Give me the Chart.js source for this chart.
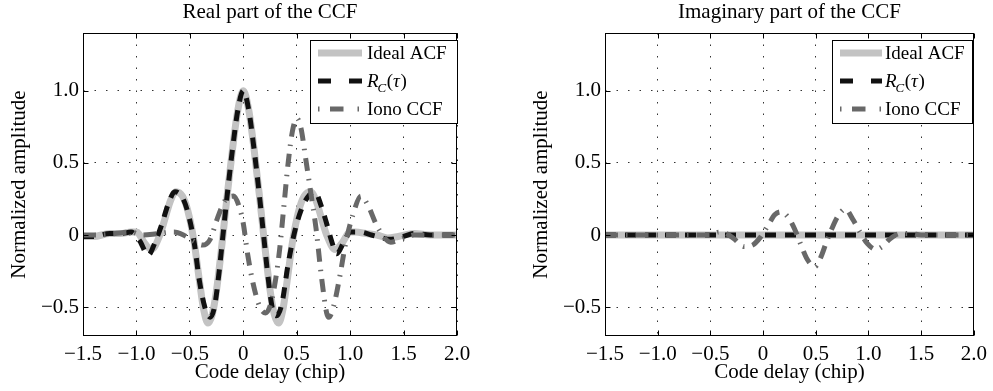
<!DOCTYPE html>
<html>
<head>
<meta charset="utf-8">
<script src="https://cdn.jsdelivr.net/npm/chart.js@4.4.1/dist/chart.umd.min.js"></script>
<style>
  html, body { margin: 0; padding: 0; background: #fff; }
  #wrap { position: relative; width: 993px; height: 391px; overflow: hidden; }
  canvas { position: absolute; top: 0; }
</style>
</head>
<body>
<div id="wrap">
  <canvas id="c1" width="522" height="391" style="left:0px"></canvas>
  <canvas id="c2" width="471" height="391" style="left:522px"></canvas>
</div>
<script>
// ---------- data ----------
const xTicks = [-1.5, -1.0, -0.5, 0, 0.5, 1.0, 1.5, 2.0];
const yTicks = [-0.5, 0, 0.5, 1.0];

// Real part: ideal ACF
const tauIdeal = [-1.5,-1.4,-1.25,-1.15,-1.05,-1.0,-0.92,-0.86,-0.78,-0.73,-0.68,-0.63,-0.57,-0.52,-0.46,-0.41,-0.37,-0.33,-0.29,-0.25,-0.19,-0.15,-0.1,-0.05,0,0.05,0.1,0.15,0.19,0.25,0.29,0.33,0.37,0.41,0.46,0.52,0.57,0.63,0.68,0.73,0.78,0.86,0.92,1.0,1.05,1.15,1.25,1.35,1.45,1.6,1.75,2.0];
const idealReal = [-0.01,-0.01,0.01,0.01,0.02,0.02,-0.06,-0.10,0.0,0.12,0.24,0.30,0.27,0.17,-0.05,-0.32,-0.52,-0.61,-0.55,-0.38,0.0,0.28,0.6,0.87,1.0,0.87,0.6,0.28,0.0,-0.38,-0.55,-0.61,-0.52,-0.32,-0.05,0.17,0.27,0.30,0.24,0.12,0.0,-0.10,-0.06,0.02,0.02,0.01,0.0,-0.02,-0.01,0.01,0.0,0.0];

// Real part: R_C(tau)
const tauRc = [-1.5,-1.4,-1.25,-1.15,-1.05,-0.97,-0.89,-0.82,-0.76,-0.7,-0.64,-0.57,-0.52,-0.46,-0.41,-0.36,-0.31,-0.27,-0.23,-0.19,-0.15,-0.1,-0.05,0,0.05,0.1,0.15,0.19,0.23,0.27,0.31,0.36,0.42,0.48,0.54,0.6,0.67,0.73,0.78,0.83,0.875,0.94,1.0,1.1,1.2,1.3,1.37,1.5,1.6,1.75,2.0];
const rcReal = [-0.01,-0.01,0.01,0.01,0.02,-0.04,-0.14,-0.04,0.08,0.22,0.30,0.26,0.16,-0.05,-0.32,-0.50,-0.57,-0.50,-0.28,0.0,0.28,0.6,0.87,1.0,0.87,0.6,0.28,0.0,-0.28,-0.50,-0.56,-0.48,-0.20,0.02,0.17,0.26,0.30,0.20,0.08,-0.05,-0.13,-0.05,0.02,0.02,0.0,-0.02,-0.03,-0.01,0.01,0.0,0.0];

// Real part: ionospheric CCF
const tauIono = [-1.5,-1.35,-1.2,-1.05,-0.95,-0.8,-0.65,-0.56,-0.47,-0.38,-0.31,-0.24,-0.17,-0.09,-0.04,0.0,0.04,0.09,0.15,0.21,0.26,0.3,0.34,0.38,0.42,0.46,0.5,0.54,0.58,0.63,0.68,0.73,0.78,0.8,0.85,0.9,0.96,1.03,1.1,1.17,1.24,1.31,1.38,1.47,1.6,1.8,2.0];
const ionoReal = [0.0,0.0,0.01,0.02,0.0,0.01,0.02,0.0,-0.04,-0.07,-0.03,0.12,0.24,0.27,0.2,0.08,-0.13,-0.33,-0.49,-0.54,-0.47,-0.32,-0.1,0.2,0.5,0.72,0.81,0.74,0.55,0.3,0.05,-0.28,-0.54,-0.57,-0.48,-0.3,-0.05,0.15,0.27,0.2,0.08,-0.01,-0.05,-0.03,0.0,0.0,0.0];

// Imaginary part: ideal ACF and R_C are zero
const tauFlat = [-1.5, -1.0, -0.5, 0, 0.5, 1.0, 1.5, 2.0];
const idealImag = [0, 0, 0, 0, 0, 0, 0, 0];
const rcImag = [0, 0, 0, 0, 0, 0, 0, 0];

// Imaginary part: ionospheric CCF
const tauIonoImag = [-1.5,-1.0,-0.5,-0.42,-0.35,-0.27,-0.18,-0.1,-0.03,0.05,0.11,0.17,0.24,0.3,0.36,0.42,0.49,0.55,0.6,0.65,0.71,0.78,0.85,0.92,0.99,1.07,1.13,1.2,1.3,1.4,1.5,2.0];
const ionoImag = [0,0,0,0.02,0.01,-0.03,-0.08,-0.07,-0.02,0.07,0.14,0.16,0.12,0.04,-0.07,-0.17,-0.22,-0.15,-0.05,0.04,0.13,0.18,0.11,0.02,-0.06,-0.1,-0.08,-0.03,0.01,0.01,0.0,0.0];

const seriesNames = ['Ideal ACF', 'R_C(\u03c4)', 'Iono CCF'];
const titles = ['Real part of the CCF', 'Imaginary part of the CCF'];
const xTitle = 'Code delay (chip)';
const yTitle = 'Normalized amplitude';

// ---------- styling ----------
const FAM = '"Liberation Serif", "Times New Roman", Times, serif';
const colIdeal = '#c3c3c3';
const colRc = '#111111';
const colIono = '#686868';
const dashRc = [11, 9];
const dashIono = [13, 8, 1.5, 8];

function pts(xs, ys) { return xs.map((x, i) => ({ x: x, y: ys[i] })); }
function fmt(v) {
  if (Math.abs(v) < 1e-9) return '0';
  return (v < 0 ? '\u2212' : '') + Math.abs(v).toFixed(1);
}

function framePlugin(cfg) {
  return {
    id: 'frame' + cfg.id,
    afterDatasetsDraw(chart) {
      const ctx = chart.ctx, a = chart.chartArea, xs = chart.scales.x, ys = chart.scales.y;
      ctx.save();
      ctx.setLineDash([]);
      ctx.strokeStyle = '#000';
      ctx.lineWidth = 1;
      const L = Math.round(a.left) + 0.5, R = Math.round(a.right) - 0.5;
      const T = Math.round(a.top) + 0.5, B = Math.round(a.bottom) - 0.5;
      ctx.beginPath();
      xTicks.forEach(v => {
        const px = Math.round(xs.getPixelForValue(v)) + 0.5;
        ctx.moveTo(px, T); ctx.lineTo(px, T + 5);
        ctx.moveTo(px, B); ctx.lineTo(px, B - 5);
      });
      yTicks.forEach(v => {
        const py = Math.round(ys.getPixelForValue(v)) + 0.5;
        ctx.moveTo(L, py); ctx.lineTo(L + 5, py);
        ctx.moveTo(R, py); ctx.lineTo(R - 5, py);
      });
      ctx.stroke();
      ctx.strokeRect(L, T, R - L, B - T);

      // legend
      const g = cfg.legend;
      ctx.fillStyle = '#fff';
      ctx.fillRect(g.x1, g.y1, g.x2 - g.x1, g.y2 - g.y1);
      ctx.strokeStyle = '#000';
      ctx.lineWidth = 1;
      ctx.strokeRect(g.x1 + 0.5, g.y1 + 0.5, g.x2 - g.x1, g.y2 - g.y1);
      ctx.lineCap = 'butt';
      // row 1
      ctx.strokeStyle = colIdeal; ctx.lineWidth = 7; ctx.setLineDash([]);
      ctx.beginPath(); ctx.moveTo(g.s1, g.rows[0]); ctx.lineTo(g.s2, g.rows[0]); ctx.stroke();
      // row 2
      ctx.strokeStyle = colRc; ctx.lineWidth = 5; ctx.setLineDash([13, 18, 13, 40]);
      ctx.beginPath(); ctx.moveTo(g.s1, g.rows[1]); ctx.lineTo(g.s2, g.rows[1]); ctx.stroke();
      // row 3
      ctx.strokeStyle = colIono; ctx.lineWidth = 5; ctx.setLineDash([1.5, 10.5, 13.5, 14, 1.5, 60]);
      ctx.beginPath(); ctx.moveTo(g.s1, g.rows[2]); ctx.lineTo(g.s2, g.rows[2]); ctx.stroke();
      ctx.setLineDash([]);
      ctx.fillStyle = '#000';
      ctx.textAlign = 'left';
      ctx.textBaseline = 'alphabetic';
      ctx.font = '19px ' + FAM;
      ctx.fillText(seriesNames[0], g.tx, g.rows[0] + 6);
      ctx.fillText(seriesNames[2], g.tx, g.rows[2] + 6);
      // R_C(tau)
      let x = g.tx, b = g.rows[1] + 6;
      ctx.font = 'italic 19px ' + FAM;
      ctx.fillText('R', x, b); x += ctx.measureText('R').width - 1;
      ctx.font = 'italic 13px ' + FAM;
      ctx.fillText('C', x, b + 4.5); x += ctx.measureText('C').width + 0.5;
      ctx.font = '19px ' + FAM;
      ctx.fillText('(', x, b); x += ctx.measureText('(').width;
      ctx.font = 'italic 19px ' + FAM;
      ctx.fillText('\u03c4', x, b); x += ctx.measureText('\u03c4').width + 0.5;
      ctx.font = '19px ' + FAM;
      ctx.fillText(')', x, b);

      // title
      ctx.font = '21px ' + FAM;
      ctx.textAlign = 'center';
      ctx.fillText(cfg.title, (a.left + a.right) / 2, 17.5);
      ctx.restore();
    }
  };
}

function makeChart(id, cfg) {
  const tickFont = { family: FAM, size: 21 };
  return new Chart(document.getElementById(id), {
    type: 'line',
    data: {
      datasets: [
        { label: seriesNames[0], data: pts(cfg.tIdeal, cfg.vIdeal), borderColor: colIdeal, borderWidth: 7, order: 3 },
        { label: seriesNames[1], data: pts(cfg.tRc, cfg.vRc), borderColor: colRc, borderWidth: 5, borderDash: dashRc, order: 2 },
        { label: seriesNames[2], data: pts(cfg.tIono, cfg.vIono), borderColor: colIono, borderWidth: 5, borderDash: dashIono, order: 1 }
      ].map(d => Object.assign(d, {
        pointRadius: 0, fill: false, cubicInterpolationMode: 'monotone',
        borderCapStyle: 'butt', borderJoinStyle: 'round'
      }))
    },
    options: {
      responsive: false,
      animation: false,
      devicePixelRatio: 1,
      events: [],
      layout: { padding: { left: 0, top: 33, right: cfg.padRight, bottom: 0 } },
      plugins: { legend: { display: false }, tooltip: { enabled: false }, title: { display: false } },
      scales: {
        x: {
          type: 'linear', min: -1.5, max: 2.0,
          afterBuildTicks: s => { s.ticks = xTicks.map(v => ({ value: v })); },
          afterFit: s => { s.height = 55; },
          ticks: { callback: v => fmt(v), padding: 6, color: '#000', font: tickFont, maxRotation: 0, autoSkip: false },
          grid: { color: '#333', lineWidth: 1, drawTicks: false },
          border: { display: false, dash: [1.5, 10] },
          title: { display: true, text: xTitle, color: '#000', font: tickFont, padding: { top: 0, bottom: 6 } }
        },
        y: {
          type: 'linear', min: -0.7, max: 1.4,
          afterBuildTicks: s => { s.ticks = yTicks.map(v => ({ value: v })); },
          afterFit: s => { s.width = 83; },
          ticks: { callback: v => fmt(v), padding: 4, color: '#000', font: tickFont, autoSkip: false },
          grid: { color: '#333', lineWidth: 1, drawTicks: false },
          border: { display: false, dash: [1.5, 10] },
          title: { display: true, text: yTitle, color: '#000', font: tickFont, padding: { top: 7, bottom: 0 } }
        }
      }
    },
    plugins: [framePlugin(cfg)]
  });
}

makeChart('c1', {
  id: 1, title: titles[0], padRight: 65,
  tIdeal: tauIdeal, vIdeal: idealReal, tRc: tauRc, vRc: rcReal, tIono: tauIono, vIono: ionoReal,
  legend: { x1: 310, y1: 40, x2: 457, y2: 123, s1: 318, s2: 362, tx: 367, rows: [53, 81, 109] }
});
makeChart('c2', {
  id: 2, title: titles[1], padRight: 14,
  tIdeal: tauFlat, vIdeal: idealImag, tRc: tauFlat, vRc: rcImag, tIono: tauIonoImag, vIono: ionoImag,
  legend: { x1: 310, y1: 40, x2: 450, y2: 123, s1: 318, s2: 360, tx: 363, rows: [53, 81, 109] }
});
</script>
</body>
</html>
